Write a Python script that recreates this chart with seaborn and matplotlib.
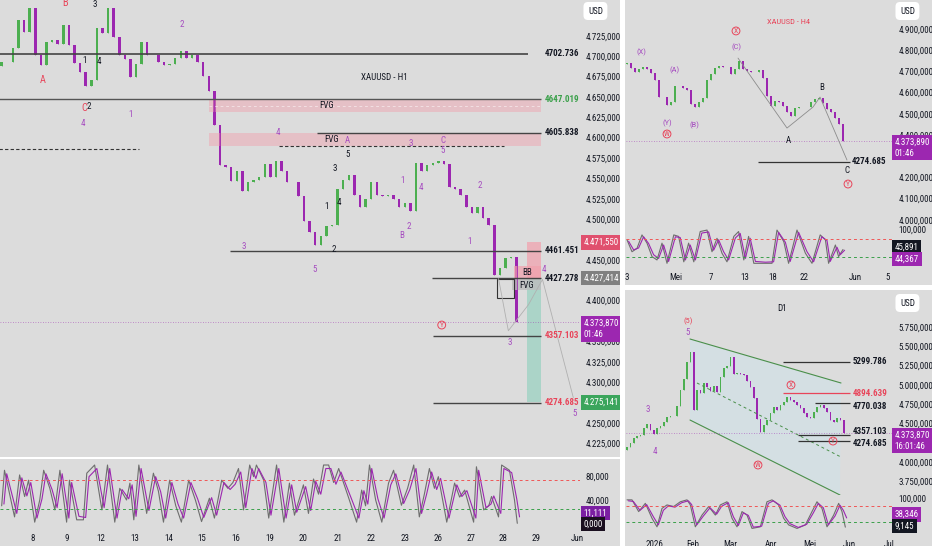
import numpy as np
import pandas as pd
import seaborn as sns
import matplotlib.pyplot as plt
import matplotlib.transforms as mtransforms
from matplotlib.patches import Rectangle
import logging

logging.getLogger('matplotlib.font_manager').setLevel(logging.ERROR)

sns.set_theme(style='white')
plt.rcParams['font.family'] = ['Roboto Condensed', 'PT Sans Narrow', 'Archivo Narrow',
                               'Liberation Sans Narrow', 'DejaVu Sans']

BG = '#dcdcdc'
UP = '#4caf50'
DOWN = '#9c27b0'
INK = '#131722'
RED = '#e8455a'
P = '#a64dc0'
W, H = 932, 550

# ---------------- H1 (left) ----------------
h1_close = [4693, 4693, 4710, 4745, 4730, 4759, 4702, 4689, 4718, 4720,
            4715, 4738, 4714, 4692, 4681, 4664, 4671, 4735, 4729, 4759,
            4723, 4702, 4696, 4674, 4690, 4718, 4702, 4701, 4693, 4689,
            4691, 4698, 4706, 4698, 4701, 4693, 4676, 4657, 4615, 4567,
            4564, 4547, 4559, 4535, 4545, 4548, 4552, 4568, 4552, 4571,
            4559, 4545, 4546, 4528, 4498, 4484, 4468, 4479, 4491, 4493,
            4537, 4548, 4554, 4530, 4515, 4525, 4545, 4530, 4528, 4530,
            4525, 4515, 4520, 4510, 4569, 4559, 4567, 4569, 4571, 4568,
            4540, 4537, 4530, 4515, 4508, 4515, 4501, 4493, 4432, 4440,
            4452, 4454, 4374]
h1_first_open = 4688
h1_days = ['8', '9', '12', '13', '14', '15', '16', '19', '20', '21', '22', '23',
           '26', '27', '28', '29', 'Jun']
h1_day_pos = [5.5, 11.6, 17.7, 23.75, 29.8, 35.7, 41.8, 47.9, 53.9, 60, 65.9, 72,
              78, 83.9, 89.5, 95.5, 102.9]
h1_price_ticks = [4225, 4250, 4300, 4325, 4350, 4400, 4450, 4500, 4525, 4550,
                  4575, 4600, 4625, 4650, 4675, 4700, 4725]

h1_k_x = [0, 0.5, 2.3, 3.2, 4.1, 4.8, 5.9, 6.8, 7.5, 8.6, 9.5, 10.4, 11.6, 12.1,
          13.4, 14.6, 15.2, 16.6, 17.9, 18.9, 20.2, 21.1, 22.3, 22.9, 23.6, 24.5,
          25.9, 27.1, 28, 28.9, 30, 31.1, 32.1, 33.4, 34.6, 35.7, 37.1, 38, 39.3,
          40.4, 41.3, 42.3, 43.2, 44.3, 45, 45.5, 46.8, 47.7, 49.1, 50.4, 51.4,
          52.3, 53.9, 54.8, 55.7, 56.6, 57.5, 58.4, 59.3, 60.2, 62, 63.4, 64.3,
          65, 65.7, 66.8, 67.9, 69.1, 70, 71.4, 72.5, 73.6, 74.6, 75.5, 76.4,
          77.3, 78, 79.5, 80.9, 81.8, 82.7, 84.3, 84.8, 86.1, 87, 87.5, 88.75,
          89.3, 90.7, 91.6, 92.1]
h1_k = [30, 91, 11, 83, 46, 74, 2, 40, 91, 60, 23, 91, 2, 74, 6, 6, 86, 100, 23,
        100, 2, 60, 40, 69, 6, 100, 17, 86, 55, 2, 74, 30, 2, 74, 40, 3, 43, 9,
        74, 60, 70, 94, 23, 100, 80, 100, 74, 9, 100, 2, 69, 14, 66, 17, 76, 50,
        100, 100, 70, 94, 43, 2, 57, 30, 100, 40, 2, 69, 91, 31, 60, 100, 11, 50,
        94, 60, 80, 2, 69, 45, 57, 2, 97, 23, 30, 46, 11, 100, 91, 40, 0]
h1_d = [33, 85, 17, 78, 47, 70, 9, 42, 85, 58, 27, 85, 9, 70, 12, 10, 80, 94, 27,
        94, 9, 58, 42, 66, 12, 94, 22, 80, 54, 9, 70, 33, 9, 70, 42, 10, 44, 14,
        70, 58, 67, 88, 27, 94, 77, 94, 70, 14, 94, 9, 66, 19, 63, 22, 72, 50,
        94, 94, 67, 88, 44, 9, 56, 33, 94, 42, 9, 66, 85, 34, 58, 94, 17, 50,
        88, 58, 77, 9, 66, 46, 56, 9, 91, 27, 33, 47, 17, 94, 87, 42, 11]

# ---------------- H4 (right top) ----------------
h4_close = [4740, 4718, 4698, 4711, 4721, 4712, 4692, 4660, 4581, 4580,
            4541, 4557, 4630, 4630, 4624, 4612, 4545, 4532, 4556, 4573,
            4659, 4690, 4717, 4725, 4721, 4721, 4690, 4713, 4751, 4710,
            4702, 4696, 4697, 4706, 4668, 4584, 4539, 4562, 4556, 4535,
            4507, 4488, 4527, 4532, 4530, 4530, 4558, 4568, 4575, 4553,
            4521, 4508, 4480, 4453, 4374]
h4_first_open = 4735
h4_days = ['3', 'Mei', '7', '13', '18', '22', 'Jun', '5']
h4_day_pos = [0, 12.25, 21, 29.5, 36.5, 44.25, 57, 65.25]
h4_price_ticks = [4000, 4100, 4200, 4400, 4500, 4600, 4700, 4800, 4900]
h4_k_x = [0, 1.25, 2.5, 3.75, 5, 6.25, 7.5, 8.75, 10, 11.7, 12.9, 14.2, 15.4,
          16.7, 18.3, 20, 21.25, 22.5, 23.75, 25, 26.7, 27.9, 29.2, 30.4, 31.7,
          34.2, 36.25, 37.5, 39.2, 40.4, 42.5, 44.6, 46.25, 48.3, 49.6, 50.4,
          52.1, 52.9, 54]
h4_k = [72, 40, 49, 85, 63, 27, 18, 63, 9, 85, 81, 13, 63, 13, 94, 98, 40, 76,
        36, 13, 81, 94, 18, 81, 9, 9, 9, 98, 67, 9, 98, 36, 9, 85, 72, 9, 58,
        27, 46]
h4_d = [68, 45, 50, 80, 62, 32, 22, 58, 14, 80, 78, 18, 58, 18, 90, 93, 44, 72,
        40, 18, 77, 89, 22, 76, 14, 12, 13, 92, 65, 14, 92, 40, 13, 80, 70, 14,
        52, 32, 44]

# ---------------- D1 (right bottom) ----------------
d1_close = [4198, 4256, 4314, 4334, 4353, 4440, 4500, 4420, 4366, 4443,
            4470, 4517, 4586, 4603, 4600, 4730, 4935, 5078, 5300, 5424,
            4676, 4940, 4900, 5030, 4980, 4920, 4990, 4910, 5100, 5220,
            5240, 5360, 5140, 5150, 5140, 5130, 5050, 4980, 4830, 4560,
            4392, 4482, 4547, 4638, 4715, 4676, 4741, 4780, 4844, 4806,
            4780, 4741, 4702, 4638, 4586, 4573, 4650, 4715, 4741, 4702,
            4650, 4547, 4521, 4573, 4547, 4374]
d1_first_open = 4160
d1_months = ['2026', 'Feb', 'Mar', 'Apr', 'Mei', 'Jun', 'Jul']
d1_month_pos = [8.4, 19.8, 30.9, 43.2, 54.9, 66.6, 78.6]
d1_price_ticks = [3750, 4000, 4500, 4750, 5000, 5250, 5500, 5750]
d1_k_x = [0, 1.5, 3.5, 5.5, 7.5, 9, 10.5, 12, 14, 16, 18, 19, 20.5, 22.5, 24.5,
          26.5, 28, 30, 31.5, 33, 34.5, 36, 37.5, 40, 42, 43.5, 45.5, 47, 48.5,
          51, 53.5, 55.5, 57, 58.5, 60, 62, 63.5, 64.5, 65.5]
d1_k = [95, 95, 58, 84, 37, 10, 68, 79, 74, 89, 95, 79, 10, 47, 74, 47, 79, 89,
        37, 10, 58, 47, 5, 10, 89, 95, 79, 37, 16, 5, 16, 58, 89, 68, 10, 47, 84,
        58, 9]
d1_d = [92, 90, 62, 80, 42, 16, 62, 76, 72, 86, 92, 80, 16, 44, 70, 50, 75, 86,
        42, 14, 54, 46, 9, 12, 84, 92, 78, 42, 20, 8, 18, 54, 84, 70, 16, 44, 78,
        62, 38]

LAST = 4373.87


def eu(v, nd=3):
    s = f'{v:,.{nd}f}'
    return s.replace(',', 'X').replace('.', ',').replace('X', '.')


fig = plt.figure(figsize=(W / 100, H / 100), dpi=100, facecolor=BG)


def px_axes(x0, y0, x1, y1):
    return fig.add_axes([x0 / W, 1 - y1 / H, (x1 - x0) / W, (y1 - y0) / H])


def style(ax, xlim, ylim):
    ax.set_facecolor(BG)
    for s in ax.spines.values():
        s.set_visible(False)
    ax.set_xlim(*xlim)
    ax.set_ylim(*ylim)
    ax.yaxis.tick_right()
    ax.tick_params(axis='both', length=0, labelsize=6.5, colors=INK, pad=4)
    ax.set_xlabel('')
    ax.set_ylabel('')
    ax.grid(False)


def candles(ax, closes, first_open, width=0.45):
    c = np.asarray(closes, float)
    o = np.r_[first_open, c[:-1]]
    x = np.arange(len(c))
    up = c >= o
    ax.vlines(x, np.minimum(o, c), np.maximum(o, c), color=np.where(up, UP, DOWN), lw=0.5)
    ax.bar(x[up], c[up] - o[up], bottom=o[up], width=width, color=UP, lw=0)
    ax.bar(x[~up], c[~up] - o[~up], bottom=o[~up], width=width, color=DOWN, lw=0)


def osc(ax, kx, k, d):
    df = pd.DataFrame({'x': kx, 'k': k, 'd': d})
    sns.lineplot(data=df, x='x', y='k', ax=ax, color='#6e6e6e', lw=0.8)
    sns.lineplot(x=df['x'] + 0.4, y=df['d'], ax=ax, color=DOWN, lw=0.8)
    ax.axhline(75, color='#f05656', ls=(0, (3, 3)), lw=0.7)
    ax.axhline(25, color='#3aa04a', ls=(0, (3, 3)), lw=0.7)


def rbox(ax, y, text, fc, tc='white', top=False):
    tr = mtransforms.blended_transform_factory(ax.transAxes, ax.transData)
    if top:
        tr = mtransforms.offset_copy(tr, fig=fig, y=3, units='dots')
    ax.text(1.006, y, text, transform=tr, ha='left', va='top' if top else 'center',
            fontsize=6.5, color=tc, linespacing=1.3, zorder=10, clip_on=False,
            bbox=dict(boxstyle='square,pad=0.3', fc=fc, ec='none'))


def circ(ax, x, y, s):
    ax.text(x, y, s, color=RED, fontsize=5.5, ha='center', va='center',
            bbox=dict(boxstyle='circle,pad=0.12', fc='none', ec=RED, lw=0.7))


def lab(ax, x, y, s, c=INK, fs=6.5, bold=False):
    ax.text(x, y, s, color=c, fontsize=fs, ha='center', va='center',
            fontweight='bold' if bold else 'normal')


# ================= LEFT H1 =================
ax = px_axes(0, 0, 580, 457)
candles(ax, h1_close, h1_first_open)
style(ax, (-0.3, 103.3), (4208, 4769))
ax.set_yticks(h1_price_ticks, [eu(v) for v in h1_price_ticks])
ax.set_xticks([])

ax.hlines(4702.736, -1, 94.1, color='#444444', lw=1.2)
ax.hlines(4647.019, -1, 96.4, color='#555555', lw=1.0)
ax.add_patch(Rectangle((37.1, 4631), 59.3, 16, fc='#f2a0ac', alpha=0.45, ec='none'))
ax.hlines(4639, 37.1, 96.4, color='white', lw=0.5, ls=(0, (4, 4)), alpha=0.7)
ax.add_patch(Rectangle((37.1, 4590), 59.3, 16, fc='#f2a0ac', alpha=0.45, ec='none'))
ax.hlines(4605.838, 56.4, 96.4, color='#444444', lw=1.0)
ax.hlines(4586, -1, 24.5, color='#333333', lw=0.8, ls=(0, (3, 2)))
ax.hlines(4590, 49.5, 89.8, color='#333333', lw=0.8, ls=(0, (3, 2)))
ax.hlines(4461.451, 40.7, 96.4, color='#444444', lw=1.0)
ax.hlines(4427.278, 76.8, 96.4, color='#444444', lw=1.0)
ax.hlines(4357.103, 77.1, 96.4, color='#444444', lw=1.0)
ax.hlines(4274.685, 77.1, 96.4, color='#444444', lw=1.0)
ax.add_patch(Rectangle((93.75, 4427.4), 2.65, 44.15, fc='#f2a0ac', alpha=0.7, ec='none'))
ax.add_patch(Rectangle((93.75, 4275.1), 2.65, 152.3, fc='#9fd3c3', alpha=0.8, ec='none'))
ax.add_patch(Rectangle((91.6, 4427), 4.8, 16, fc='#f2a0ac', alpha=0.7, ec='none'))
ax.add_patch(Rectangle((91.1, 4413), 5.3, 14, fc='#bdbdbd', alpha=0.8, ec='none'))
ax.add_patch(Rectangle((88.4, 4403), 3.2, 24, fc='none', ec='#333333', lw=0.8))
ax.plot([88.75, 90.5, 94.1, 96.6, 102.1], [4427, 4363, 4395, 4426, 4281],
        color='#b0b0b0', lw=0.6)
ax.axhline(LAST, color=DOWN, ls=(0, (1, 2)), lw=0.6, alpha=0.6)
lab(ax, 58, 4639, 'FVG')
lab(ax, 59, 4598, 'FVG')
lab(ax, 93.8, 4434, 'BB')
lab(ax, 93.8, 4419, 'FVG')
lab(ax, 68.4, 4674, 'XAUUSD - H1')
for y, s, c in [(4702.736, '4702.736', INK), (4647.019, '4647.019', '#3aa04a'),
                (4605.838, '4605.838', INK), (4461.451, '4461.451', INK),
                (4427.278, '4427.278', INK), (4357.103, '4357.103', RED),
                (4274.685, '4274.685', RED)]:
    ax.text(97, y, s, color=c, fontsize=6.5, fontweight='bold', va='center')

for s, x, y, c in [('A', 7.3, 4671, RED), ('B', 11.25, 4765, RED), ('C', 14.8, 4637, RED),
                   ('2', 15.6, 4638, INK), ('3', 16.6, 4764, INK), ('1', 14.8, 4695, INK),
                   ('4', 17.3, 4693, INK), ('4', 14.5, 4617, P), ('1', 23, 4628, P),
                   ('2', 32.1, 4739, P), ('4', 49.3, 4606, P), ('A', 61.8, 4597, P),
                   ('5', 61.8, 4579, INK), ('3', 59.5, 4562, INK), ('1', 58, 4515, INK),
                   ('4', 60.2, 4520, INK), ('2', 59.3, 4463, INK), ('5', 55.9, 4438, P),
                   ('3', 43.2, 4467, P), ('B', 71.4, 4480, P), ('2', 72.7, 4491, P),
                   ('1', 71.6, 4547, P), ('4', 74.8, 4539, P), ('3', 73, 4593, P),
                   ('C', 78.9, 4597, P), ('5', 78.75, 4584, P), ('2', 85.4, 4541, P),
                   ('1', 83.6, 4473, P), ('4', 96.8, 4438, P), ('3', 90.7, 4348, P),
                   ('5', 102.3, 4261, P)]:
    lab(ax, x, y, s, c=c, fs=7.5 if c == RED else 6.5)
circ(ax, 78.6, 4370, 'Y')
rbox(ax, 4471.55, eu(4471.55), '#e0506e')
rbox(ax, 4427.414, eu(4427.414), '#808080')
rbox(ax, LAST, eu(LAST) + '\n01:46', DOWN, top=True)
rbox(ax, 4275.141, eu(4275.141), '#3ba55c')

axo = px_axes(0, 460, 580, 527)
osc(axo, h1_k_x, h1_k, h1_d)
style(axo, (-0.3, 103.3), (-6.3, 108.6))
axo.set_yticks([40, 80], ['40,000', '80,000'])
axo.set_xticks(h1_day_pos, h1_days)
axo.tick_params(axis='x', pad=5)
rbox(axo, 18, '11,111', '#7b1fa2')
rbox(axo, -1, '0,000', '#1a0f1f')

# ================= RIGHT TOP H4 =================
ax = px_axes(626, 0, 893, 226)
candles(ax, h4_close, h4_first_open, width=0.5)
style(ax, (-0.25, 66.5), (3971, 5037))
ax.set_yticks(h4_price_ticks, [eu(v) for v in h4_price_ticks])
ax.set_xticks([])
ax.axhline(LAST, color=DOWN, ls=(0, (1, 2)), lw=0.6, alpha=0.6)
ax.hlines(4274.685, 32.75, 55.75, color='#333333', lw=0.9)
ax.text(56.3, 4274.685, '4274.685', fontsize=6.5, fontweight='bold', color=INK, va='center')
ax.plot([27.75, 40, 46.5, 48.25, 55], [4763, 4433, 4532, 4579, 4282], color='#8c8c8c', lw=0.6)
lab(ax, 40.25, 4933, 'XAUUSD - H4', c=RED, fs=6)
for s, x, y in [('(X)', 3.5, 4791), ('(A)', 12, 4707), ('(Y)', 10, 4457),
                ('(B)', 16.75, 4447), ('(C)', 27.25, 4815)]:
    lab(ax, x, y, s, c=P, fs=6)
for s, x, y in [('A', 40.25, 4376), ('B', 48.75, 4626), ('C', 55, 4235)]:
    lab(ax, x, y, s, fs=6.5)
circ(ax, 10, 4405, 'W')
circ(ax, 27.25, 4891, 'X')
circ(ax, 55.25, 4169, 'Y')
rbox(ax, LAST, eu(4373.890) + '\n01:46', DOWN, top=True)

axo = px_axes(626, 228, 893, 270)
osc(axo, h4_k_x, h4_k, h4_d)
style(axo, (-0.25, 66.5), (-8.9, 103.5))
axo.set_yticks([100], ['100,000'])
axo.set_xticks(h4_day_pos, h4_days)
axo.tick_params(axis='x', pad=2)
rbox(axo, 53, '45,891', '#131722')
rbox(axo, 21, '44,367', '#9c27b0')

# ================= RIGHT BOTTOM D1 =================
ax = px_axes(626, 290, 893, 495)
ax.fill([18.9, 64.2, 63.9, 18.9], [5595, 5026, 3577, 4547], color='#d3e1e6', alpha=0.8, lw=0)
ax.plot([18.9, 64.2], [5595, 5026], color='#4a8f4a', lw=0.8)
ax.plot([18.9, 63.9], [4547, 3577], color='#4a8f4a', lw=0.8)
ax.plot([21, 64.2], [5026, 4068], color='#4a8f4a', lw=0.7, ls=(0, (3, 3)))
candles(ax, d1_close, d1_first_open, width=0.5)
style(ax, (-0.3, 79.8), (3577, 6229))
ax.set_yticks(d1_price_ticks, [eu(v) for v in d1_price_ticks])
ax.set_xticks([])
ax.axhline(LAST, color=DOWN, ls=(0, (1, 2)), lw=0.6, alpha=0.6)
ax.hlines(5299.786, 46.8, 66.9, color='#333333', lw=0.9)
ax.hlines(4894.639, 46.8, 66.9, color=RED, lw=0.9)
ax.hlines(4770.038, 56.4, 66.9, color='#333333', lw=0.9)
ax.hlines(4357.103, 51.3, 66.9, color='#333333', lw=0.9)
ax.hlines(4274.685, 51.3, 66.9, color='#333333', lw=0.9)
for y, s, c in [(5299.786, '5299.786', INK), (4894.639, '4894.639', RED),
                (4720, '4770.038', INK), (4400, '4357.103', INK), (4240, '4274.685', INK)]:
    ax.text(67.6, y, s, color=c, fontsize=6.5, fontweight='bold', va='center')
lab(ax, 46.5, 5996, 'D1', fs=6.5)
lab(ax, 18.3, 5828, '(5)', c=RED, fs=6)
lab(ax, 18.3, 5685, '5', c=P, fs=6.5)
lab(ax, 6.3, 4689, '3', c=P, fs=6.5)
lab(ax, 8.4, 4146, '4', c=P, fs=6.5)
circ(ax, 39.3, 3965, 'W')
circ(ax, 49.2, 5000, 'X')
circ(ax, 61.8, 4275, 'Y')
rbox(ax, LAST, eu(LAST) + '\n16:01:46', DOWN, top=True)

axo = px_axes(626, 497, 893, 532)
osc(axo, d1_k_x, d1_k, d1_d)
style(axo, (-0.3, 79.8), (-6.3, 104))
axo.set_yticks([100], ['100,000'])
axo.set_xticks(d1_month_pos, d1_months)
axo.tick_params(axis='x', pad=6)
rbox(axo, 49, '38,346', '#9c27b0')
rbox(axo, 13, '9,145', '#131722')

# separators and USD boxes
for r in [(620, 0, 5, 550), (625, 285, 307, 5), (0, 457, 620, 2), (0, 546, 932, 4)]:
    fig.patches.append(Rectangle((r[0] / W, 1 - (r[1] + r[3]) / H), r[2] / W, r[3] / H,
                                 transform=fig.transFigure, fc='white', ec='none'))
for x, y in [(588, 11), (900, 11), (900, 303)]:
    fig.text(x / W, 1 - y / H, 'USD', fontsize=6.5, color=INK, va='center',
             bbox=dict(boxstyle='round,pad=0.5', fc='white', ec='none'))

fig.savefig('out.png', dpi=100, facecolor=BG)
